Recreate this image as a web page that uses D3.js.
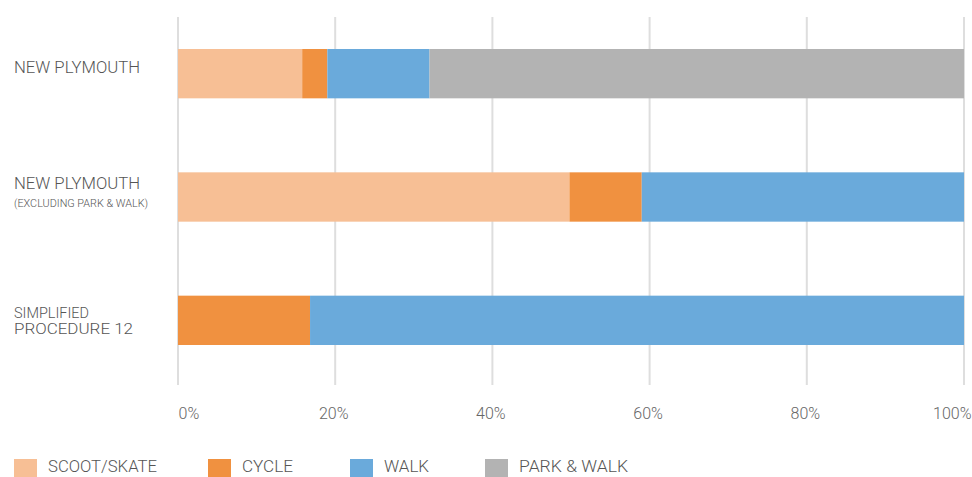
<!DOCTYPE html>
<html><head><meta charset="utf-8">
<script src="https://cdn.jsdelivr.net/npm/d3@7"></script>
<style>
body{margin:0;background:#fff;}
text{font-family:Roboto,"Open Sans",sans-serif;font-weight:300;fill:#555;}
</style></head>
<body><svg id="c" width="972" height="477"></svg>
<script>
const categories = ["NEW PLYMOUTH", "NEW PLYMOUTH (EXCLUDING PARK & WALK)", "SIMPLIFIED PROCEDURE 12"];
const labelLines = [["NEW PLYMOUTH"], ["NEW PLYMOUTH", "(EXCLUDING PARK & WALK)"], ["SIMPLIFIED", "PROCEDURE 12"]];
const seriesNames = ["SCOOT/SKATE", "CYCLE", "WALK", "PARK & WALK"];
const scootSkate = [15.8, 49.8, 0];
const cycle = [3.2, 9.2, 16.8];
const walk = [13.0, 41.0, 83.2];
const parkWalk = [68.0, 0, 0];
const colors = ["#f7bf95", "#f09140", "#6aaadb", "#b3b3b3"];
const tickValues = [0, 20, 40, 60, 80, 100];

const svg = d3.select("#c");
const x = d3.scaleLinear().domain([0, 100]).range([178, 964]);
const y = d3.scaleBand().domain(categories).range([12, 382]).paddingInner(0.6).paddingOuter(0.3);

// gridlines
svg.append("g").selectAll("line").data(tickValues).join("line")
  .attr("x1", d => x(d)).attr("x2", d => x(d))
  .attr("y1", 17).attr("y2", 385)
  .attr("stroke", "#dedede").attr("stroke-width", 2);

// axis labels
const ax = svg.append("g").attr("transform", "translate(0,412)")
  .call(d3.axisBottom(x).tickValues(tickValues).tickFormat(d => d + "%").tickSize(0));
ax.select(".domain").remove();
ax.selectAll("text").attr("dy", "0").attr("dominant-baseline", "middle")
  .style("font-size", "16px").style("fill", "#666").style("font-family", "Roboto,sans-serif").style("font-weight", 300)
  .attr("text-anchor", d => d === 0 ? "start" : d === 100 ? "end" : "middle")
  .attr("x", d => d === 100 ? 7 : d === 0 ? 0 : -2);

const series = [scootSkate, cycle, walk, parkWalk];
const data = categories.map((c, i) => {
  const o = {cat: c};
  seriesNames.forEach((s, j) => o[s] = series[j][i]);
  return o;
});
const stacked = d3.stack().keys(seriesNames)(data);

svg.append("g").selectAll("g").data(stacked).join("g")
  .attr("fill", (d, i) => colors[i])
  .selectAll("rect").data(d => d.filter(p => p[1] - p[0] > 0)).join("rect")
  .attr("x", d => x(d[0])).attr("width", d => x(d[1]) - x(d[0]))
  .attr("y", d => y(d.data.cat)).attr("height", y.bandwidth());

// category labels
const lg = svg.append("g");
function lab(txt, yy, size, len) {
  lg.append("text").attr("x", 14).attr("y", yy).attr("dominant-baseline", "middle")
    .style("font-size", size + "px").attr("textLength", len).attr("lengthAdjust", "spacingAndGlyphs").text(txt);
}
labelLines.forEach((lines, i) => {
  const cy = y(categories[i]) + y.bandwidth() / 2;
  if (i === 0) {
    lab(lines[0], cy - 5, 16, 126);
  } else if (i === 1) {
    lab(lines[0], cy - 12, 16, 126);
    lab(lines[1], cy + 7, 10.5, 134);
  } else {
    lab(lines[0], cy - 6, 14.5, 75);
    lab(lines[1], cy + 10, 14.5, 119);
  }
});

// legend
const legX = [14, 208, 350, 485];
const legLen = [109, 51, 45, 109];
const leg = svg.append("g").selectAll("g").data(seriesNames).join("g")
  .attr("transform", (d, i) => `translate(${legX[i]},459)`);
leg.append("rect").attr("width", 23).attr("height", 18).attr("fill", (d, i) => colors[i]);
leg.append("text").attr("x", 34).attr("y", 9).attr("dominant-baseline", "middle")
  .style("font-size", "16px").attr("textLength", (d, i) => legLen[i]).attr("lengthAdjust", "spacingAndGlyphs").text(d => d);
</script></body></html>
